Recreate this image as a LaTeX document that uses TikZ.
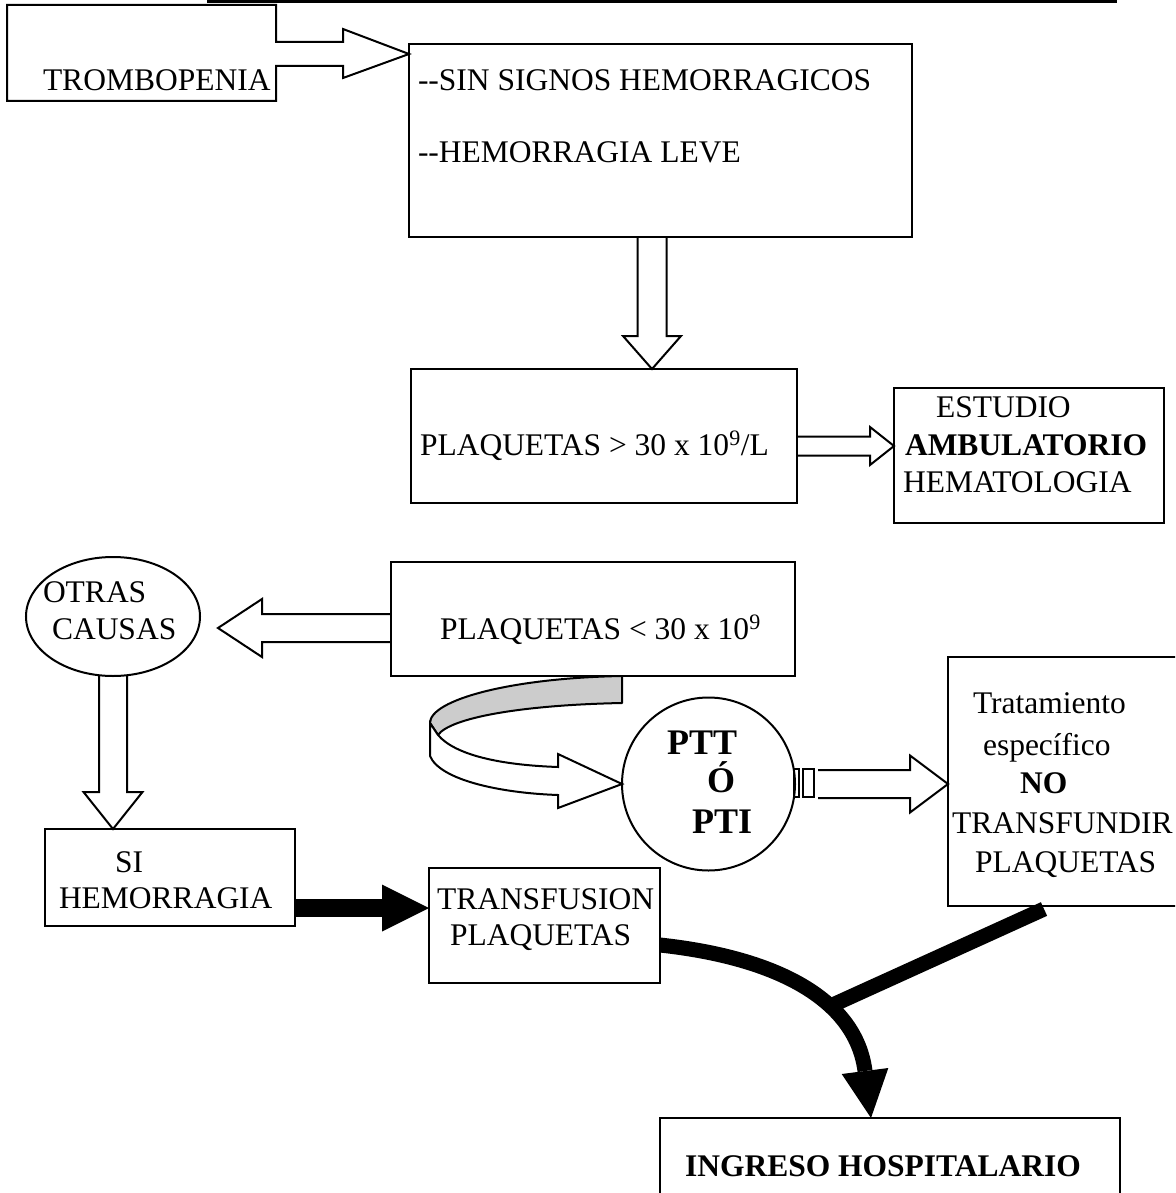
\documentclass[tikz,border=0pt]{standalone}
\usepackage{fontspec}
\setmainfont{Liberation Serif}
\usetikzlibrary{calc,shapes.geometric,backgrounds}
\definecolor{ribbon}{gray}{0.8}

% hollow block arrows: start point, tip, shaft half width, head half width, head length
\newcommand\blockright[5]{\draw[hollow] ($(#1)+(0,-#3)$) -- ($(#2)+(-#5,-#3)$) -- ($(#2)+(-#5,-#4)$) -- (#2) -- ($(#2)+(-#5,#4)$) -- ($(#2)+(-#5,#3)$) -- ($(#1)+(0,#3)$);}
\newcommand\blockleft[5]{\draw[hollow] ($(#1)+(0,-#3)$) -- ($(#2)+(#5,-#3)$) -- ($(#2)+(#5,-#4)$) -- (#2) -- ($(#2)+(#5,#4)$) -- ($(#2)+(#5,#3)$) -- ($(#1)+(0,#3)$);}
\newcommand\blockdown[5]{\draw[hollow] ($(#1)+(-#3,0)$) -- ($(#2)+(-#3,-#5)$) -- ($(#2)+(-#4,-#5)$) -- (#2) -- ($(#2)+(#4,-#5)$) -- ($(#2)+(#3,-#5)$) -- ($(#1)+(#3,0)$);}

\begin{document}
\begin{tikzpicture}[x=1pt,y=-1pt,
  every node/.style={inner sep=0pt,outer sep=0pt},
  frame/.style={draw,line width=2pt,rectangle},
  hollow/.style={draw,line width=2pt,line join=miter},
  txt/.style={anchor=base west,font=\fontsize{31.5}{37}\selectfont},
  btxt/.style={anchor=base west,font=\fontsize{31.5}{37}\selectfont\bfseries},
  bigb/.style={anchor=base west,font=\fontsize{36}{42}\selectfont\bfseries},
  heavy/.style={line width=15pt,line cap=butt},
]
\useasboundingbox (0,0) rectangle (1175,1193);
\clip (0,0) rectangle (1175,1193);

% rule along the top
\draw[line width=3pt] (207,1.5) -- (1117,1.5);

% boxes
\node[minimum width=269pt,minimum height=96pt] (trom) at (141.5,53) {};
\node[frame,minimum width=503pt,minimum height=193pt] (b2) at (660.5,140.5) {};
\node[frame,minimum width=386pt,minimum height=134pt] (b3) at (604,436) {};
\node[frame,minimum width=270pt,minimum height=135pt] (b4) at (1029,455.5) {};
\node[frame,minimum width=404pt,minimum height=114pt] (b5) at (593,619) {};
\node[draw,line width=2pt,ellipse,minimum width=174pt,minimum height=119pt] (otras) at (113,616.5) {};
\node[frame,minimum width=250pt,minimum height=97pt] (si) at (170,877.5) {};
\node[frame,minimum width=231pt,minimum height=115pt] (trans) at (544.5,925.5) {};
\node[draw,line width=2pt,circle,minimum size=173pt] (ptt) at (708.5,784) {};
\node[frame,minimum width=232pt,minimum height=249pt] (trat) at (1064,781.5) {};
\node[frame,minimum width=460pt,minimum height=122pt] (ing) at (890,1179) {};

% texts
\node[txt] (t-trom) at (43,91) {TROMBOPENIA};
\node[txt] (t-sin) at (418,91) {-\kern0pt-SIN SIGNOS HEMORRAGICOS};
\node[txt] (t-leve) at (418,163) {-\kern0pt-HEMORRAGIA LEVE};
\node[txt] (t-mas) at (420,455) {PLAQUETAS > 30 x 10\textsuperscript{9}/L};
\node[txt] (t-est) at (936,417) {ESTUDIO};
\node[btxt] (t-amb) at (905,455) {AMBULATORIO};
\node[txt] (t-hem) at (903,492) {HEMATOLOGIA};
\node[txt] (t-menos) at (440,639) {PLAQUETAS < 30 x 10\textsuperscript{9}};
\node[txt] (t-otras) at (43,602) {OTRAS};
\node[txt] (t-causas) at (52,639) {CAUSAS};
\node[txt] (t-si) at (115,872) {SI};
\node[txt] (t-hemo) at (59,908) {HEMORRAGIA};
\node[txt] (t-trans) at (437,909) {TRANSFUSION};
\node[txt] (t-plaq) at (450,945) {PLAQUETAS};
\node[bigb] (t-ptt) at (667,754) {PTT};
\node[bigb] (t-o) at (707,792) {Ó};
\node[bigb] (t-pti) at (692,833) {PTI};
\node[txt] (t-trat) at (973,713) {Tratamiento};
\node[txt] (t-esp) at (983,755) {específico};
\node[btxt] (t-no) at (1020,793) {NO};
\node[txt] (t-tfd) at (952,833) {TRANSFUNDIR};
\node[txt] (t-plq2) at (975,872) {PLAQUETAS};
\node[btxt] (t-ing) at (685,1176) {INGRESO HOSPITALARIO};

% TROMBOPENIA box merged with its outgoing block arrow
\coordinate (t1) at ($(b2.north west)+(0,10)$);
\draw[hollow] ($(trom.north east)+(0,37)$) -- (trom.north east) -- (trom.north west)
  -- (trom.south west) -- (trom.south east) -- ($(trom.north east)+(0,61)$)
  -- ($(trom.north east)+(67,61)$) -- ($(trom.north east)+(67,73)$) -- (t1)
  -- ($(trom.north east)+(67,24)$) -- ($(trom.north east)+(67,37)$) -- cycle;

% hollow block arrows
\coordinate (s2) at ($(b2.south)+(-8.5,0)$);
\coordinate (e2) at (s2 |- b3.north);
\blockdown{s2}{e2}{14.5}{29}{33}

\coordinate (s3) at ($(b3.east)+(0,10)$);
\coordinate (e3) at (b4.west |- s3);
\blockright{s3}{e3}{9.5}{19}{24}

\coordinate (s5) at ($(b5.west)+(0,9)$);
\coordinate (e5) at ($(otras.east |- s5)+(18,0)$);
\blockleft{s5}{e5}{14}{29}{44}

\coordinate (e6) at (otras.south |- si.north);
\blockdown{otras.south}{e6}{14}{29.5}{37}

\coordinate (s7) at ($(ptt.east)+(23,0)$);
\coordinate (e7) at (trat.west |- ptt.east);
\blockright{s7}{e7}{14}{28.5}{38}
\draw[line width=2pt] ($(ptt.east)+(-1,-15)$) rectangle ($(ptt.east)+(4,13)$);
\draw[line width=2pt] ($(ptt.east)+(8,-15)$) rectangle ($(ptt.east)+(19,13)$);

% folded ribbon arrow from the lower count box to PTT / PTI
\begin{scope}[on background layer]
\coordinate (r0) at ($(b5.south west)+(231,0)$);
\draw[line width=2pt,fill=ribbon,line join=round]
  (r0) .. controls ($(r0)+(-112,2)$) and ($(r0)+(-192,24)$) .. ($(r0)+(-192,47)$)
  -- ($(r0)+(-184,59)$)
  .. controls ($(r0)+(-172,42)$) and ($(r0)+(-102,29)$) .. ($(r0)+(0,27)$) -- cycle;
\draw[line width=2pt,fill=white,line join=miter]
  ($(r0)+(-192,47)$) -- ($(r0)+(-192,80)$)
  .. controls ($(r0)+(-182,104)$) and ($(r0)+(-122,117)$) .. ($(r0)+(-64,119)$)
  -- ($(r0)+(-64,132)$) -- (ptt.west) -- ($(r0)+(-64,78)$) -- ($(r0)+(-64,91)$)
  .. controls ($(r0)+(-122,89)$) and ($(r0)+(-167,79)$) .. ($(r0)+(-184,59)$) -- cycle;
\end{scope}

% solid black arrow into the transfusion box
\coordinate (s8) at ($(si.east)+(0,30.5)$);
\coordinate (e8) at (trans.west |- s8);
\draw[line width=18pt] (s8) -- ($(e8)+(-47,0)$);
\fill ($(e8)+(-47,-23.5)$) -- (e8) -- ($(e8)+(-47,23.5)$) -- cycle;

% heavy curved arrows into the admission box
\coordinate (s9) at ($(trans.east)+(0,19.5)$);
\coordinate (tip) at ($(ing.north)+(-19,0)$);
\coordinate (hb) at ($(tip)+(-6,-47)$);
\draw[heavy] (s9) .. controls ($(s9)+(120,13)$) and ($(hb)+(-9,-70)$) .. (hb)
  coordinate[pos=0.64] (join);
\fill ($(hb)+(-23.3,3)$) -- (tip) -- ($(hb)+(23.3,-3)$) -- cycle;
\draw[heavy] ($(trat.south)+(-20,3)$) -- (join);
\end{tikzpicture}
\end{document}
